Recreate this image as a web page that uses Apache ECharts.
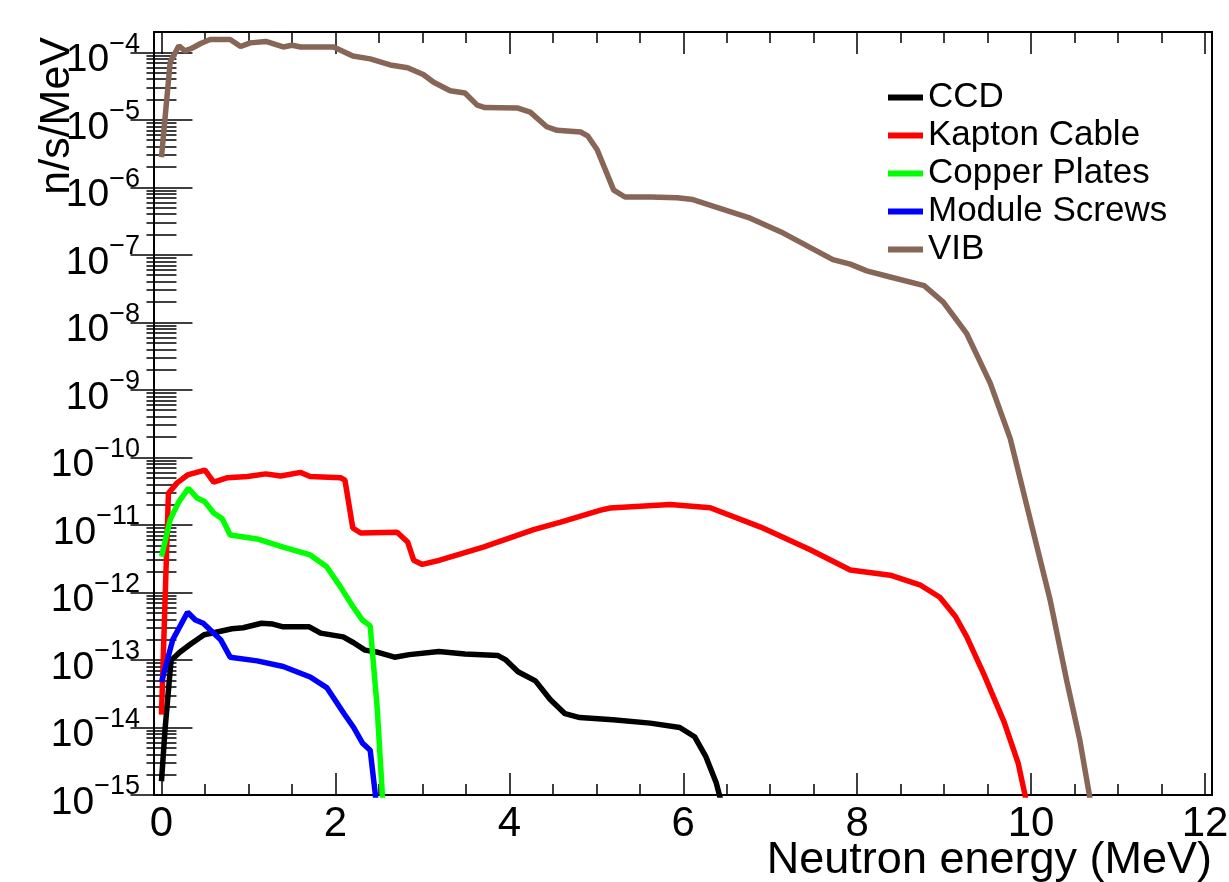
<!DOCTYPE html>
<html>
<head>
<meta charset="utf-8">
<title>Neutron spectra</title>
<script src="https://cdn.jsdelivr.net/npm/echarts@6.0.0/dist/echarts.min.js"></script>
<style>
  html, body { margin: 0; padding: 0; background: #fff; }
  #chart { width: 1229px; height: 882px; }
</style>
</head>
<body>
<div id="chart"></div>
<script>
// series names (legend order)
const names = ['CCD', 'Kapton Cable', 'Copper Plates', 'Module Screws', 'VIB'];
const colors = ['#000000', '#ff0000', '#00ff00', '#0000ff', '#876657'];

// neutron energy (MeV) / rate (n/s/MeV)
const ccdE = [0, 0.04, 0.11, 0.21, 0.34, 0.49, 0.64, 0.81, 0.94, 1.15, 1.28, 1.4, 1.7, 1.83, 2.09, 2.21, 2.34, 2.49, 2.68, 2.85, 3.19, 3.49, 3.87, 3.96, 4.1, 4.3, 4.47, 4.64, 4.81, 5.19, 5.62, 5.96, 6.13, 6.26, 6.38, 6.46];
const ccdV = [1.6e-15, 9e-15, 9.8e-14, 1.3e-13, 1.74e-13, 2.36e-13, 2.6e-13, 2.9e-13, 3e-13, 3.5e-13, 3.4e-13, 3.1e-13, 3.1e-13, 2.5e-13, 2.2e-13, 1.8e-13, 1.4e-13, 1.3e-13, 1.1e-13, 1.2e-13, 1.33e-13, 1.23e-13, 1.16e-13, 1.0e-13, 6.7e-14, 4.9e-14, 2.6e-14, 1.6e-14, 1.4e-14, 1.3e-14, 1.16e-14, 1e-14, 7.3e-15, 3.7e-15, 1.5e-15, 6e-16];

const kaptonE = [0, 0.08, 0.18, 0.3, 0.5, 0.6, 0.76, 0.99, 1.2, 1.37, 1.6, 1.71, 2.06, 2.11, 2.2, 2.29, 2.71, 2.83, 2.9, 3.0, 3.2, 3.7, 4.28, 4.59, 5.05, 5.16, 5.85, 6.31, 6.89, 7.46, 7.92, 8.38, 8.72, 8.95, 9.13, 9.26, 9.46, 9.69, 9.85, 9.93, 9.97];
const kaptonV = [1.55e-14, 2.95e-11, 4.2e-11, 5.5e-11, 6.5e-11, 4.3e-11, 5e-11, 5.2e-11, 5.7e-11, 5.3e-11, 6e-11, 5.2e-11, 5e-11, 4.6e-11, 9e-12, 7.6e-12, 7.8e-12, 5.6e-12, 3e-12, 2.6e-12, 3e-12, 4.7e-12, 8.5e-12, 1.1e-11, 1.66e-11, 1.78e-11, 2e-11, 1.8e-11, 9.3e-12, 4.3e-12, 2.15e-12, 1.8e-12, 1.3e-12, 8.5e-13, 4.4e-13, 2.2e-13, 6e-14, 1.2e-14, 3e-15, 1e-15, 5e-16];

const copperE = [0, 0.1, 0.2, 0.31, 0.41, 0.5, 0.6, 0.7, 0.79, 1.1, 1.4, 1.71, 1.9, 2.06, 2.19, 2.31, 2.4, 2.48, 2.54, 2.56];
const copperV = [3.4e-12, 1.2e-11, 2.2e-11, 3.5e-11, 2.5e-11, 2.2e-11, 1.5e-11, 1.23e-11, 7.1e-12, 6.2e-12, 4.7e-12, 3.6e-12, 2.4e-12, 1.2e-12, 6.5e-13, 3.9e-13, 3.2e-13, 2e-14, 1e-15, 5e-16];

const screwsE = [0, 0.13, 0.3, 0.39, 0.48, 0.68, 0.79, 1.1, 1.4, 1.71, 1.9, 2.1, 2.21, 2.31, 2.4, 2.46, 2.48];
const screwsV = [4.7e-14, 2e-13, 5.1e-13, 3.9e-13, 3.5e-13, 2e-13, 1.1e-13, 9.7e-14, 8e-14, 5.6e-14, 3.9e-14, 1.6e-14, 1e-14, 5.9e-15, 4.6e-15, 1e-15, 5e-16];

const vibE = [0, 0.1, 0.2, 0.27, 0.35, 0.45, 0.56, 0.79, 0.91, 1.02, 1.2, 1.4, 1.5, 1.6, 1.98, 2.2, 2.4, 2.63, 2.83, 3.01, 3.13, 3.32, 3.49, 3.63, 3.72, 4.09, 4.24, 4.43, 4.55, 4.82, 4.9, 5.01, 5.2, 5.33, 5.62, 5.93, 6.11, 6.77, 7.15, 7.72, 7.92, 8.11, 8.38, 8.77, 8.99, 9.26, 9.53, 9.76, 9.99, 10.22, 10.41, 10.56, 10.67, 10.72];
const vibV = [2.8e-6, 7.2e-5, 1.25e-4, 1.05e-4, 1.15e-4, 1.35e-4, 1.55e-4, 1.55e-4, 1.22e-4, 1.38e-4, 1.45e-4, 1.2e-4, 1.27e-4, 1.2e-4, 1.2e-4, 8.8e-5, 8e-5, 6.5e-5, 5.9e-5, 4.7e-5, 3.6e-5, 2.7e-5, 2.5e-5, 1.65e-5, 1.52e-5, 1.5e-5, 1.3e-5, 7.9e-6, 7e-6, 6.6e-6, 5.8e-6, 3.6e-6, 9.1e-7, 7.2e-7, 7.2e-7, 7.0e-7, 6.6e-7, 3.5e-7, 2.1e-7, 8.5e-8, 7.3e-8, 5.8e-8, 4.7e-8, 3.5e-8, 2.0e-8, 6.8e-9, 1.26e-9, 1.9e-10, 1.2e-11, 7.6e-13, 4.9e-14, 6.5e-15, 1e-15, 4e-16];

// axis ticks
const xMajor = [0, 2, 4, 6, 8, 10, 12];
const xMinor = [0.5, 1, 1.5, 2.5, 3, 3.5, 4.5, 5, 5.5, 6.5, 7, 7.5, 8.5, 9, 9.5, 10.5, 11, 11.5];
const yMajor = [1e-15, 1e-14, 1e-13, 1e-12, 1e-11, 1e-10, 1e-9, 1e-8, 1e-7, 1e-6, 1e-5, 1e-4];
const yMinor = [];
for (let k = -15; k <= -4; k++) {
  for (let m = 2; m <= 9; m++) {
    const v = m * Math.pow(10, k);
    if (v < 2e-4) yMinor.push(v);
  }
}

const X_MIN = -0.086, X_MAX = 12.08;
const Y_MIN = 1e-15, Y_MAX = 2e-4;
const FONT = '"Liberation Sans", Arial, Helvetica, sans-serif';

const pairs = (xs, ys) => xs.map((x, i) => [x, ys[i]]);
const seriesData = [
  pairs(ccdE, ccdV),
  pairs(kaptonE, kaptonV),
  pairs(copperE, copperV),
  pairs(screwsE, screwsV),
  pairs(vibE, vibV)
];

// 轴的通用配置
function xAxisOf(position, ticks, len, withLabel) {
  return {
    type: 'value', position: position, min: X_MIN, max: X_MAX,
    axisLine: { show: false },
    splitLine: { show: false },
    axisTick: { show: true, inside: true, length: len, customValues: ticks,
                lineStyle: { color: '#000', width: 1.5 } },
    axisLabel: withLabel ? {
      show: true, customValues: xMajor, margin: 8,
      fontSize: 42, lineHeight: 42, color: '#000', fontFamily: FONT
    } : { show: false }
  };
}

function yAxisOf(position, ticks, len, withLabel) {
  return {
    type: 'log', logBase: 10, position: position, min: Y_MIN, max: Y_MAX,
    axisLine: { show: false },
    splitLine: { show: false },
    axisTick: { show: true, inside: true, length: len, customValues: ticks,
                lineStyle: { color: '#000', width: 1.5 } },
    axisLabel: withLabel ? {
      show: true, customValues: yMajor, margin: 14, padding: [16, 0, 0, 0],
      formatter: function (v) {
        const e = Math.round(Math.log10(v));
        return '{b|10}{s|\u2212' + (-e) + '}';
      },
      rich: {
        b: { fontSize: 39, lineHeight: 39, color: '#000', fontFamily: FONT, verticalAlign: 'bottom' },
        s: { fontSize: 27, lineHeight: 27, color: '#000', fontFamily: FONT, verticalAlign: 'bottom', padding: [0, 0, 22, 0] }
      }
    } : { show: false }
  };
}

const chart = echarts.init(document.getElementById('chart'), null, { renderer: 'canvas' });
chart.setOption({
  animation: false,
  backgroundColor: '#fff',
  color: colors,
  grid: {
    left: 154, right: 17, top: 32, bottom: 87,
    show: true, borderColor: '#000', borderWidth: 2, backgroundColor: 'transparent',
    containLabel: false, outerBoundsMode: 'none'
  },
  legend: {
    data: names, orient: 'vertical', left: 888, top: 80, padding: 0,
    itemGap: 3, itemWidth: 35, itemHeight: 6, icon: 'rect', selectedMode: false,
    textStyle: { fontSize: 35, lineHeight: 32, color: '#000', fontFamily: FONT }
  },
  xAxis: [
    xAxisOf('bottom', xMajor, 22, true),
    xAxisOf('bottom', xMinor, 11, false),
    xAxisOf('top', xMajor, 22, false),
    xAxisOf('top', xMinor, 11, false)
  ],
  yAxis: [
    yAxisOf('left', yMajor, 31, true),
    yAxisOf('left', yMinor, 15, false),
    yAxisOf('right', yMajor, 31, false),
    yAxisOf('right', yMinor, 15, false)
  ],
  graphic: [
    { type: 'text', right: 17, top: 838,
      style: { text: 'Neutron energy (MeV)', font: '45px ' + FONT, fill: '#000' } },
    { type: 'text', x: 57, y: 37, rotation: Math.PI / 2,
      style: { text: 'n/s/MeV', font: '43px ' + FONT, fill: '#000', align: 'right', verticalAlign: 'middle' } }
  ],
  series: names.map((n, i) => ({
    name: n, type: 'line', xAxisIndex: 0, yAxisIndex: 0,
    data: seriesData[i], showSymbol: false, symbol: 'none', clip: true,
    lineStyle: { width: 5.5, color: colors[i] }
  }))
});
</script>
</body>
</html>
